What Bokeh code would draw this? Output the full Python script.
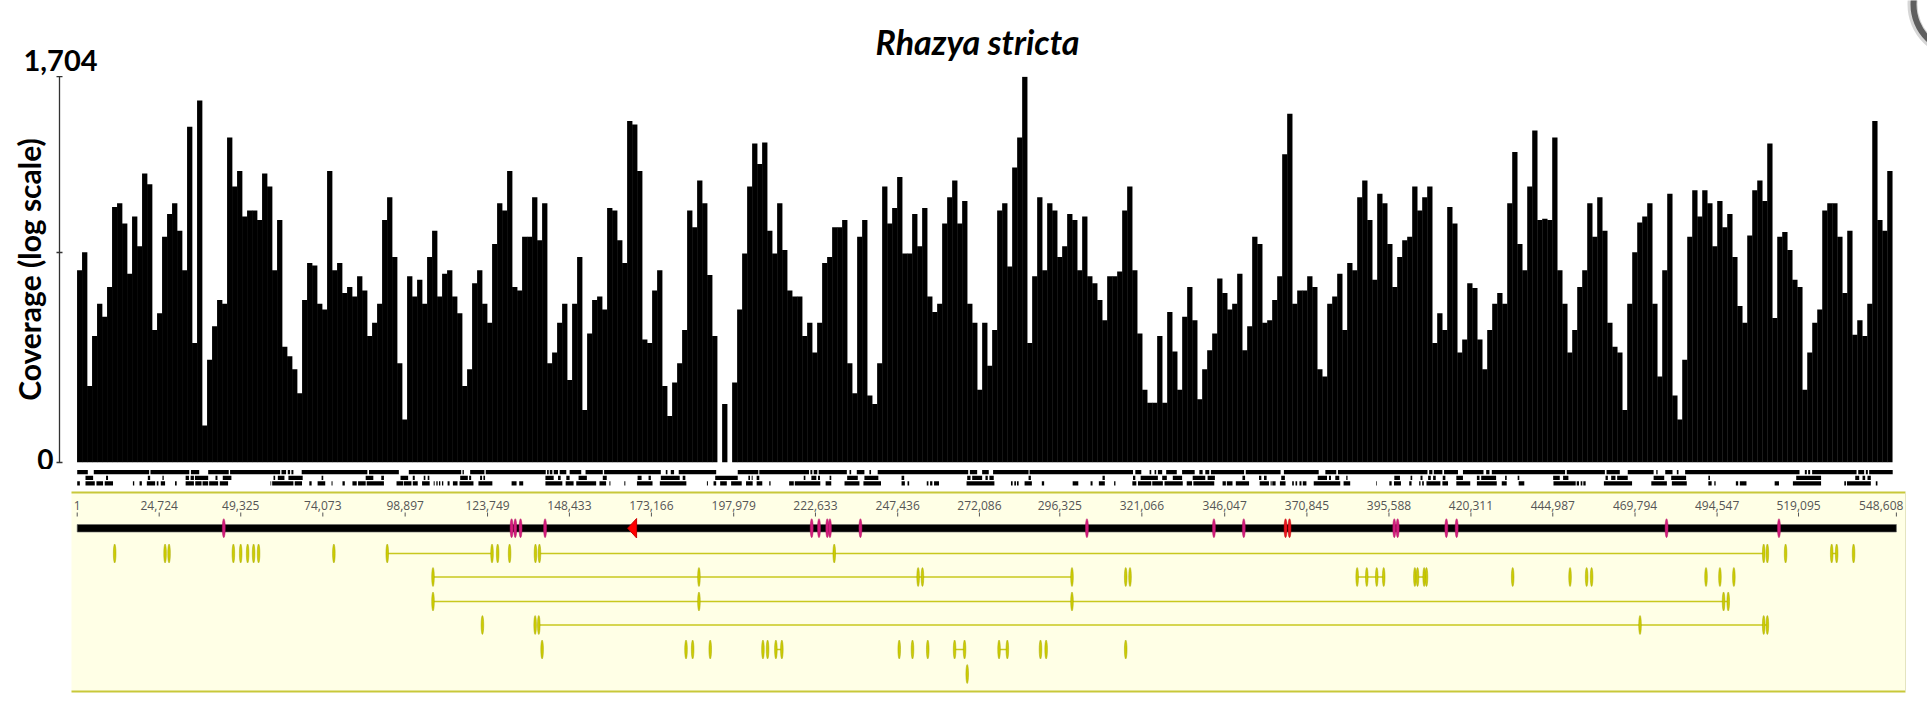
import math
from bokeh.plotting import figure
from bokeh.layouts import column
from bokeh.models import Range1d, FixedTicker, CustomJSTickFormatter
from bokeh.embed import file_html
from bokeh.resources import INLINE
from bokeh.core.properties import value

# ---------------- data ----------------
title_text = "Rhazya stricta"
genome_length = 548608
bin_size = 1508  # bp per coverage bin

# coverage, log10(coverage + 1), one value per bin
log_coverage = [
    1.61, 1.76, 0.64, 1.06, 1.33, 1.22, 1.47, 2.14, 2.17, 2.00,
    1.58, 2.06, 1.81, 2.42, 2.33, 1.11, 1.25, 1.89, 2.08, 2.17,
    1.94, 1.61, 2.81, 1.00, 3.03, 0.31, 0.86, 1.14, 1.36, 1.33,
    2.72, 2.31, 2.44, 2.06, 2.11, 2.11, 2.03, 2.42, 2.31, 1.61,
    2.03, 0.97, 0.89, 0.78, 0.58, 1.36, 1.67, 1.65, 1.33, 1.28,
    2.44, 1.61, 1.67, 1.42, 1.47, 1.39, 1.56, 1.44, 1.06, 1.17,
    1.33, 2.03, 2.22, 1.72, 0.83, 0.36, 1.56, 1.39, 1.53, 1.33,
    1.72, 1.94, 1.39, 1.58, 1.61, 1.39, 1.25, 0.64, 0.78, 1.50,
    1.61, 1.33, 1.17, 1.83, 2.17, 2.11, 2.44, 1.47, 1.44, 1.89,
    1.89, 2.22, 1.86, 2.17, 0.83, 0.92, 1.17, 1.33, 0.69, 1.33,
    1.72, 0.44, 1.08, 1.36, 1.39, 1.28, 2.13, 2.11, 1.86, 1.67,
    2.86, 2.83, 2.44, 1.03, 1.00, 1.44, 1.61, 0.64, 0.39, 0.67,
    0.83, 1.11, 2.11, 1.97, 2.36, 2.17, 1.57, 1.06, 0.00, 0.49,
    0.00, 0.67, 1.28, 1.75, 2.31, 2.67, 2.50, 2.68, 1.94, 1.75,
    2.17, 1.78, 1.44, 1.39, 1.39, 1.06, 1.17, 0.92, 1.17, 1.67,
    1.72, 1.97, 1.97, 2.03, 0.83, 0.58, 1.89, 2.03, 0.56, 0.49,
    0.83, 2.31, 2.00, 2.13, 2.39, 1.75, 1.75, 2.08, 1.81, 2.13,
    1.39, 1.26, 1.33, 2.00, 2.22, 2.36, 2.00, 2.19, 1.33, 1.17,
    0.61, 1.17, 0.81, 1.11, 2.11, 2.17, 1.64, 2.47, 2.72, 3.23,
    1.00, 1.56, 2.22, 1.61, 2.17, 2.11, 1.72, 1.81, 2.08, 2.03,
    1.61, 2.06, 1.56, 1.50, 1.36, 1.19, 1.56, 1.56, 1.60, 2.11,
    2.31, 1.61, 1.08, 0.61, 0.50, 0.50, 1.06, 0.50, 1.26, 0.93,
    0.61, 1.22, 1.47, 1.19, 0.53, 0.78, 0.94, 1.08, 1.54, 1.42,
    1.28, 1.33, 1.58, 0.94, 1.14, 1.89, 1.83, 1.17, 1.19, 1.36,
    1.56, 2.58, 2.92, 1.33, 1.44, 1.44, 1.56, 1.47, 0.78, 0.72,
    1.33, 1.39, 1.58, 1.11, 1.67, 1.61, 2.22, 2.36, 2.03, 1.53,
    2.25, 2.17, 1.83, 1.47, 1.72, 1.86, 1.89, 2.31, 2.11, 2.22,
    2.31, 1.00, 1.25, 1.11, 2.14, 2.00, 0.92, 1.03, 1.50, 1.46,
    1.03, 0.78, 1.11, 1.33, 1.42, 1.33, 2.17, 2.60, 1.83, 1.61,
    2.31, 2.78, 2.03, 2.04, 2.03, 2.72, 1.61, 1.33, 0.92, 1.11,
    1.47, 1.61, 2.17, 1.89, 2.22, 1.94, 1.17, 0.97, 0.92, 0.44,
    1.33, 1.76, 2.01, 2.06, 2.17, 1.33, 0.72, 1.61, 2.25, 0.56,
    0.36, 0.86, 1.89, 2.28, 2.06, 2.28, 2.17, 1.81, 2.19, 1.97,
    2.08, 1.72, 1.31, 1.17, 1.90, 2.28, 2.36, 2.19, 2.67, 1.21,
    1.89, 1.93, 1.78, 1.53, 1.47, 0.61, 0.92, 1.17, 1.28, 2.11,
    2.17, 2.17, 1.89, 1.42, 1.94, 1.07, 1.19, 1.06, 1.33, 2.86,
    2.03, 1.94, 2.44,
]

y_tick_coverage = [0, 56, 1704]
y_tick_text = ["0", "", "1,704"]

genome_ticks = [1, 24724, 49325, 74073, 98897, 123749, 148433, 173166, 197979,
                222633, 247436, 272086, 296325, 321066, 346047, 370845, 395588,
                420311, 444987, 469794, 494547, 519095, 548608]

# read-mapping tracks below the coverage (start, end) in kb
track_row1 = [(0, 3.2), (5, 21.7), (22.1, 33.8), (34.3, 36.8), (39.5, 45.7), (46.1, 61.2), (61.6, 63), (63.5, 64.2),
              (64.6, 65.2), (67.7, 87.5), (88, 97), (100, 115.8), (116.2, 116.6), (118.5, 122.8), (123.2, 141.3),
              (141.7, 142.2), (142.5, 143.3), (143.7, 145), (145.5, 147.5), (148.5, 152), (153.3, 158.5), (158.9, 176),
              (177.5, 178), (179, 180), (181.4, 192.7), (199.2, 205.4), (205.7, 220.7), (221.1, 221.7), (222.1, 223.2),
              (223.6, 232.1), (232.9, 233.4), (235.1, 237.4), (238.9, 239.4), (241.4, 268.7), (269.2, 271.4),
              (272.9, 274.9), (276.2, 286.9), (287.2, 318.4), (319.1, 320.9), (323.4, 323.9), (324.9, 325.4),
              (325.9, 327.2), (328.4, 331.6), (333.2, 337), (338.4, 339.4), (340.2, 341.4), (341.9, 351.9),
              (352.4, 362.9), (363.9, 374.4), (376.4, 379.7), (380.2, 407.2), (407.7, 408.7), (409.1, 411.7),
              (412.2, 416.4), (417.9, 424.1), (424.9, 425.9), (426.6, 448.7), (449.2, 460.7), (461.2, 465.2),
              (467.6, 475.4), (476.2, 476.6), (478.9, 481.1), (482.4, 482.9), (484.9, 519.4), (521, 521.6),
              (522, 522.6), (523.2, 536.6), (537.1, 538.9), (539.4, 540), (540.4, 547.5)]
track_row2 = [(2.5, 4.8), (8.7, 9.3), (21.3, 22), (25.7, 26.1), (32.7, 33.7), (34.2, 35.2), (35.5, 39.5), (41.7, 42.3),
              (43.9, 46.5), (59.2, 59.7), (60.5, 62.5), (63.7, 68), (73.7, 74.2), (87, 89.3), (91.7, 92.5), (97.5, 99.8),
              (101.2, 101.8), (104.5, 105), (105.7, 106.2), (115.5, 117.8), (118.2, 118.8), (121.5, 122.1), (122.5, 123),
              (141.2, 143.7), (145, 145.8), (147.5, 148.5), (151.2, 153.7), (158.5, 159.7), (169, 170.2), (172.3, 173),
              (176, 181.7), (182.6, 183.4), (192.4, 199.2), (202.4, 202.9), (203.4, 203.7), (204.9, 205.7),
              (219.1, 219.6), (221.4, 222.9), (223.4, 224), (226.9, 227.4), (232.2, 235.4), (237.4, 241.6),
              (248.6, 249.4), (268.4, 269.4), (269.9, 272.9), (273.9, 274.6), (275.1, 276.4), (286.9, 287.6),
              (309.2, 309.9), (318.4, 319.1), (320.7, 325.9), (327.2, 328.6), (330.4, 333.2), (336.4, 340.2),
              (340.9, 343.1), (351.4, 352.2), (356.4, 357.1), (357.9, 358.7), (363.1, 364.2), (374.1, 376.9),
              (377.5, 378.1), (379.4, 380.6), (382.7, 383.1), (397.2, 398.9), (402.1, 402.6), (405.1, 405.7),
              (407.4, 408.2), (408.9, 409.7), (411.8, 412.6), (415.9, 417.9), (422.1, 422.9), (423.4, 427.9),
              (430.6, 431.1), (434.4, 434.9), (445.1, 447.1), (448.1, 449.7), (460.9, 461.6), (462.6, 463.9),
              (464.4, 467.6), (475.4, 478.6), (480.7, 485.2), (491.9, 492.4), (518.4, 525.9), (536.2, 537.4),
              (538.4, 539.2), (539.9, 540.9)]
track_row3 = [(0, 0.8), (2.5, 5.3), (5.8, 7.8), (8.3, 10.8), (16.8, 17.2), (18.8, 19.5), (21, 23.5), (24, 24.5),
              (25.2, 26.5), (29.5, 30), (32.7, 35.2), (35.6, 37.5), (37.8, 39.5), (39.8, 42.5), (43, 45.5), (58.3, 58.5),
              (58.8, 65.2), (65.6, 67.8), (70, 70.7), (72.5, 74.8), (76.7, 77), (80, 80.7), (83, 84.3), (84.7, 87),
              (87.3, 92.5), (96.3, 98.3), (98.5, 100.8), (101.2, 102.7), (104, 106.3), (107.5, 107.8), (108.3, 108.7),
              (109.1, 109.5), (110, 110.4), (111.7, 112.3), (113.3, 114.7), (115.3, 119.5), (121, 125.2), (131, 132.5),
              (133.3, 134.5), (141.2, 146.3), (147.3, 149.7), (150.5, 156.5), (157.5, 159.5), (160.5, 160.8),
              (165, 165.3), (168.8, 173.5), (175.7, 183.7), (189.9, 190.2), (191.9, 192.7), (193.9, 195.9),
              (197.2, 200.4), (201.7, 203.7), (204.9, 206.6), (208.7, 209.1), (214.7, 216.1), (216.4, 224.1),
              (225.7, 227.4), (231.4, 235.9), (237.1, 242.4), (248.6, 249.6), (250.4, 250.9), (256.2, 256.7),
              (257.2, 257.9), (258.4, 259.9), (268.2, 276.6), (281.6, 282.1), (282.6, 283.1), (283.4, 283.9),
              (285.7, 287.9), (290.9, 291.6), (300.2, 301.9), (305.6, 306.2), (308.1, 309.9), (312.7, 313.1),
              (318.2, 319.4), (319.9, 323.9), (324.2, 327.4), (327.9, 333.4), (334.6, 336.2), (336.6, 342.9),
              (345.4, 346.4), (346.7, 348.4), (349.4, 353.4), (356.6, 359.4), (359.9, 360.2), (360.4, 361.4),
              (362.7, 364.4), (366.4, 366.9), (367.4, 367.9), (368.6, 369.2), (369.6, 370.7), (372.9, 380.9),
              (381.9, 383.9), (391.7, 391.9), (395.7, 396.4), (397.1, 399.2), (401.7, 402.4), (404.7, 405.1),
              (405.6, 406.1), (406.9, 411.1), (411.7, 413.4), (415.9, 420.1), (422.1, 428.1), (429.6, 431.1),
              (434.7, 436.4), (445.2, 451.9), (452.2, 452.9), (453.4, 453.9), (454.2, 454.9), (460.4, 468.9),
              (474.7, 479.4), (480.9, 485.4), (491.9, 492.9), (493.7, 494.1), (500.2, 500.9), (501.4, 503.4),
              (511.9, 513.2), (517.4, 525.9), (532.9, 533.4), (533.7, 540.9), (542.4, 542.9)]

# features on the genome bar (kb)
pink_marks = [44.2, 131.0, 132.1, 133.7, 141.1, 221.5, 223.7, 226.2, 227.0, 236.2, 304.5, 342.8, 351.8,
              397.2, 398.2, 412.9, 416.0, 479.3, 513.2]
red_marks = [364.4, 365.6]
red_triangle_kb = (166.0, 168.7)

# gene rows: exon positions and intron spans (kb)
row_a_exons = [11.3, 26.5, 27.7, 47.1, 49.3, 51.4, 53.2, 54.7, 77.4, 93.5, 125.1, 126.8, 130.4, 138.2, 139.4,
               228.3, 508.6, 509.7, 515.2, 529.1, 530.6, 535.7]
row_a_lines = [(93.5, 125.1), (139.4, 508.6), (529.1, 530.6)]
row_b_exons = [107.3, 187.5, 253.6, 254.9, 300.0, 316.2, 317.5, 386.0, 388.9, 391.9, 394.0, 403.4, 404.2, 406.2,
               406.9, 432.9, 450.2, 455.2, 456.7, 491.2, 495.4, 499.6]
row_b_lines = [(107.3, 300.0), (386.0, 394.0), (404.2, 406.9)]
row_c_exons = [107.3, 187.5, 300.0, 496.5, 497.9]
row_c_lines = [(107.3, 497.9)]
row_d_exons = [122.2, 138.1, 139.2, 471.3, 508.6, 509.7]
row_d_lines = [(139.2, 509.7)]
row_e_exons = [140.2, 183.6, 185.6, 190.9, 206.8, 208.2, 210.7, 212.5, 247.9, 251.9, 256.5, 264.6, 267.6, 278.0,
               280.5, 290.5, 292.2, 316.2]
row_e_lines = [(210.7, 212.5), (264.6, 267.6), (278.0, 280.5)]
row_f_exons = [268.4]
row_f_lines = []

# ---------------- layout constants ----------------
W = 1927
LEFT = 59           # frame left (axis line)
RIGHT_B = 17
FRAME_W = W - LEFT - RIGHT_B
X0 = -5338          # bp at frame left edge
X1 = 552866         # bp at frame right edge
BP_PER_PX = (X1 - X0) / FRAME_W


def px_to_bp(px):
    return X0 + (px - LEFT) * BP_PER_PX


x_range = Range1d(X0, X1)
HEADER_H = 76       # canvas rows 0..76
ZERO_PX = 462       # pixel row of coverage 0
GAP = 7             # blank rows under the zero line that belong to the coverage canvas
HA = ZERO_PX + GAP - HEADER_H
HB = 713 - ZERO_PX - GAP
FONT_BIG = "Lato"

# ---------------- header (title and top tick label) ----------------
ph = figure(width=W, height=HEADER_H, x_range=Range1d(0, W), y_range=Range1d(HEADER_H, 0),
            output_backend="svg", toolbar_location=None, x_axis_location=None, y_axis_location=None,
            min_border_left=0, min_border_right=0, min_border_top=0, min_border_bottom=0)
try:
    ph.frame_align = False
except Exception:
    pass
ph.outline_line_color = None
ph.grid.visible = False
# grey ring partly visible in the top-right corner of the original image
ph.annulus(x=[1961], y=[4], inner_radius=44, outer_radius=54, fill_color="#d6d6d6", line_color=None)
ph.annulus(x=[1961], y=[4], inner_radius=45, outer_radius=51, fill_color="#5f5f5f", line_color=None)
ph.text(x=[977], y=[41], text=[title_text], text_align="center", text_baseline="middle",
        text_font=value(FONT_BIG), text_font_style="bold italic", text_font_size="34px", text_color="black")
ph.text(x=[23], y=[60], text=[y_tick_text[-1]], text_align="left", text_baseline="middle",
        text_font=value(FONT_BIG), text_font_style="bold", text_font_size="29px", text_color="black")

# ---------------- coverage figure ----------------
y_max = math.log10(1 + max(y_tick_coverage))
pa = figure(width=W, height=HA, x_range=x_range, y_range=Range1d(0, y_max),
            output_backend="svg", toolbar_location=None, x_axis_location=None,
            min_border_left=LEFT, min_border_right=RIGHT_B, min_border_top=0, min_border_bottom=GAP)
pa.outline_line_color = None
pa.grid.visible = False

centers = [1 + bin_size * (i + 0.5) for i in range(len(log_coverage))]
pa.vbar(x=centers, width=bin_size * 1.06, top=log_coverage, bottom=0,
        fill_color="black", line_color=None)

tick_vals = [math.log10(1 + v) for v in y_tick_coverage]
axis_text = [t if v == 0 else "" for v, t in zip(y_tick_coverage, y_tick_text)]
yax = pa.yaxis[0]
yax.ticker = FixedTicker(ticks=tick_vals)
yax.formatter = CustomJSTickFormatter(args=dict(vals=tick_vals, labels=axis_text), code="""
    let best = 0;
    for (let i = 0; i < vals.length; i++) {
        if (Math.abs(vals[i] - tick) < Math.abs(vals[best] - tick)) best = i;
    }
    return labels[best];
""")
yax.major_label_text_font = FONT_BIG
yax.major_label_text_font_style = "bold"
yax.major_label_text_font_size = "28px"
yax.major_label_text_color = "black"
yax.major_label_text_baseline = "bottom"
yax.major_label_standoff = 3
yax.axis_line_color = "#333333"
yax.axis_line_width = 1.3
yax.major_tick_line_color = "#333333"
yax.major_tick_line_width = 1.3
yax.major_tick_out = 3
yax.major_tick_in = 3
yax.axis_label = "Coverage (log scale)"
yax.axis_label_text_font = FONT_BIG
yax.axis_label_text_font_style = "bold"
yax.axis_label_text_font_size = "30px"
yax.axis_label_text_color = "black"
yax.axis_label_standoff = -13

# ---------------- annotation figure (y = pixel rows below the zero line) ----------------
pb = figure(width=W, height=HB, x_range=x_range, y_range=Range1d(713 - ZERO_PX, GAP),
            output_backend="svg", toolbar_location=None, x_axis_location=None, y_axis_location=None,
            min_border_left=LEFT, min_border_right=RIGHT_B, min_border_top=0, min_border_bottom=0)
pb.outline_line_color = None
pb.grid.visible = False

# read tracks
for rows, (top, bot) in zip([track_row1, track_row2, track_row3], [(7.5, 11.8), (13.2, 17.4), (18.8, 23)]):
    pb.quad(left=[s * 1000 for s, e in rows], right=[e * 1000 for s, e in rows],
            top=top, bottom=bot, fill_color="black", line_color=None)

# panel
pb.quad(left=px_to_bp(71), right=px_to_bp(1905), top=30, bottom=229,
        fill_color="#FFFFE6", line_color=None)
pb.segment(x0=[px_to_bp(71)] * 2, x1=[px_to_bp(1905)] * 2, y0=[30, 229], y1=[30, 229],
           line_color="#C8C83A", line_width=2)
pb.segment(x0=[px_to_bp(1905)], x1=[px_to_bp(1905)], y0=[30], y1=[229],
           line_color="#E4E4C0", line_width=1)

# genome ruler
tick_labels = [f"{t:,}" for t in genome_ticks]
aligns = ["center"] * (len(genome_ticks) - 1) + ["right"]
xoffs = [0] * (len(genome_ticks) - 1) + [7]
pb.text(x=genome_ticks, y=[43] * len(genome_ticks), text=tick_labels, text_align=aligns,
        x_offset=xoffs, text_baseline="middle", text_font=value("Open Sans"),
        text_font_size="12px", text_color="#555555")
pb.segment(x0=genome_ticks, x1=genome_ticks, y0=[50] * len(genome_ticks), y1=[54] * len(genome_ticks),
           line_color="#555555", line_width=1)
pb.quad(left=[1], right=[genome_length], top=[62], bottom=[69.5], fill_color="black",
        line_color="#666666", line_width=0.6)

# tRNA-like marks on the bar
pb.ellipse(x=[k * 1000 for k in pink_marks], y=65.7, width=3, height=19,
           width_units="screen", height_units="screen", fill_color="#D41C7E", line_color="#B0105F",
           line_width=0.5)
pb.ellipse(x=[k * 1000 for k in red_marks], y=65.7, width=3, height=19,
           width_units="screen", height_units="screen", fill_color="#E8141E", line_color="#C00000",
           line_width=0.5)
t0, t1 = red_triangle_kb
pb.patch(x=[t0 * 1000, t1 * 1000, t1 * 1000], y=[65.7, 56, 75.5], fill_color="#FF0000", line_color="#CC0000")

# gene rows
gene_rows = [(row_a_exons, row_a_lines), (row_b_exons, row_b_lines), (row_c_exons, row_c_lines),
             (row_d_exons, row_d_lines), (row_e_exons, row_e_lines), (row_f_exons, row_f_lines)]
row_y = [91, 114.5, 139, 162.5, 187, 211.5]
for (exons, lines), yy in zip(gene_rows, row_y):
    if lines:
        pb.segment(x0=[s * 1000 for s, e in lines], x1=[e * 1000 for s, e in lines],
                   y0=[yy] * len(lines), y1=[yy] * len(lines), line_color="#C8C81E", line_width=1.5)
    pb.ellipse(x=[k * 1000 for k in exons], y=yy, width=2.6, height=19,
               width_units="screen", height_units="screen", fill_color="#CDCD00", line_color="#A5A500",
               line_width=0.5)

layout = column(ph, pa, pb, spacing=0)
open("out.html", "w").write(file_html(layout, INLINE))
